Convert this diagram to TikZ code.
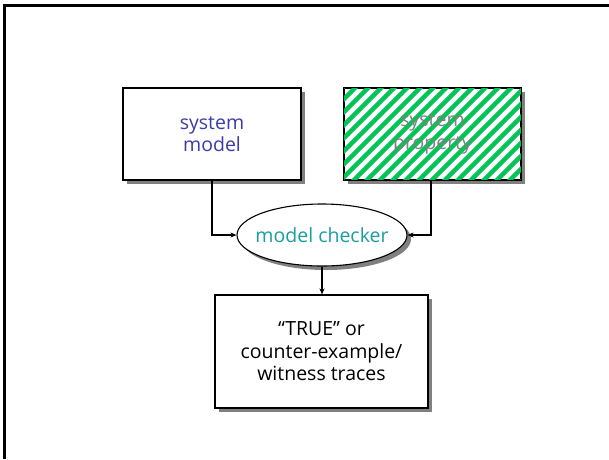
\documentclass[tikz,border=0pt]{standalone}
\usepackage{fontspec}
\setmainfont{Open Sans}
\usetikzlibrary{shapes.geometric,arrows.meta}
\definecolor{boxblue}{HTML}{3C3CA8}
\definecolor{checkteal}{HTML}{1A9E9E}
\definecolor{stripegreen}{HTML}{00C455}
\definecolor{shadowgray}{HTML}{808080}
\tikzset{
  px/.style={x=1pt,y=-1pt},
  labelfont/.style={font=\fontsize{19.5}{22.5}\selectfont},
  box/.style={draw=black,line width=1.1pt,fill=white,align=center,labelfont},
  boxshadow/.style={fill=shadowgray,draw=none},
  conn/.style={line width=1.3pt,-{Stealth[length=6pt,width=5pt]}},
}
\begin{document}
\begin{tikzpicture}[px]
\useasboundingbox (0,0) rectangle (609,459);
% page frame (top and left edges)
\draw[line width=2.2pt] (4.5,459) -- (4.5,5.5) -- (609,5.5);

% shadows
\fill[boxshadow] (127,92) rectangle (305,184);
\fill[boxshadow] (348,92) rectangle (525,184);
\fill[boxshadow] (219,299) rectangle (432,412);
\fill[boxshadow] (326,239) ellipse [x radius=85,y radius=31];

% system model
\node[box,minimum width=178pt,minimum height=92pt,text=boxblue] (sm) at (212,134) {system\\model};

% system property with green hatching
\node[box,minimum width=177pt,minimum height=92pt] (sp) at (432.5,134) {};
\begin{scope}
  \clip (sp.south west) rectangle (sp.north east);
  \foreach \i in {-10,...,24} {
    \draw[stripegreen,line width=4.4pt] (344+\i*13,190) -- ++(110,-110);
  }
\end{scope}
\draw[line width=1.1pt] (sp.south west) rectangle (sp.north east);
\node[align=center,text=shadowgray,labelfont] at (sp.center) {system\\property};

% model checker: fixed-size ellipse with its label on top
\node[ellipse,draw=black,line width=1.1pt,fill=white,minimum width=170pt,minimum height=62pt,inner sep=0pt] (mc) at (322,235) {};
\node[text=checkteal,labelfont] at (mc.center) {model checker};

% result box
\node[box,minimum width=213pt,minimum height=113pt] (res) at (321.5,351.5) {``TRUE'' or\\counter-example/\\witness traces};

% connectors
\coordinate (lk) at (212,235);
\coordinate (rk) at (431,235);
\draw[conn] (sm.south) -- (lk) -- (mc.west);
\draw[conn] (sp.south -| rk) -- (rk) -- (mc.east);
\draw[conn] (mc.south) -- (mc.south |- res.north);
\end{tikzpicture}
\end{document}
